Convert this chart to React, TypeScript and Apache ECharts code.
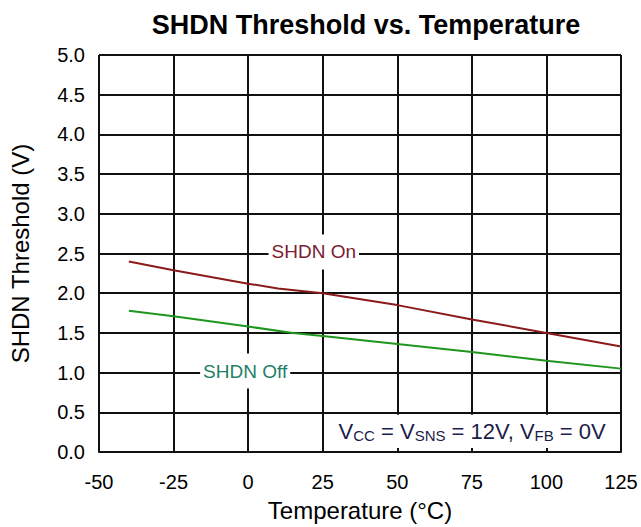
import React, { useEffect, useRef } from "react";
import * as echarts from "echarts";

const temps = [-40, -25, 0, 10, 25, 50, 75, 100, 125];
const shdnOn = [2.4, 2.29, 2.12, 2.06, 2.0, 1.85, 1.67, 1.5, 1.33];
const temps2 = [-40, -25, 0, 15, 25, 50, 75, 100, 125];
const shdnOff = [1.78, 1.71, 1.58, 1.5, 1.46, 1.36, 1.26, 1.15, 1.05];
const xTicks = [-50, -25, 0, 25, 50, 75, 100, 125];
const yTicks = [0, 0.5, 1, 1.5, 2, 2.5, 3, 3.5, 4, 4.5, 5];

const FONT = "Liberation Sans, Arial, sans-serif";

export default function App() {
  const ref = useRef<HTMLDivElement>(null);
  useEffect(() => {
    if (!ref.current) return;
    const chart = echarts.init(ref.current, null, { renderer: "svg" });
    const grid = "#111";
    chart.setOption({
      animation: false,
      backgroundColor: "#fff",
      textStyle: { fontFamily: FONT },
      title: {
        text: "SHDN Threshold vs. Temperature",
        left: 361,
        textAlign: "center",
        top: 6,
        textStyle: { fontFamily: FONT, fontSize: 27, fontWeight: "bold", color: "#000" },
      },
      grid: { left: 96, right: 20, top: 55, bottom: 72 },
      xAxis: {
        type: "value",
        min: xTicks[0],
        max: xTicks[xTicks.length - 1],
        interval: 25,
        name: "Temperature (°C)",
        nameLocation: "middle",
        nameGap: 46,
        nameTextStyle: { fontFamily: FONT, fontSize: 24, color: "#000" },
        axisLine: { show: true, lineStyle: { color: grid, width: 2 } },
        axisTick: { show: false },
        axisLabel: { fontFamily: FONT, fontSize: 20, color: "#000", margin: 20 },
        splitLine: { show: true, lineStyle: { color: grid, width: 2 } },
      },
      yAxis: {
        type: "value",
        min: yTicks[0],
        max: yTicks[yTicks.length - 1],
        interval: 0.5,
        name: "SHDN Threshold (V)",
        nameLocation: "middle",
        nameGap: 67,
        nameTextStyle: { fontFamily: FONT, fontSize: 24, color: "#000" },
        axisLine: { show: true, lineStyle: { color: grid, width: 2 } },
        axisTick: { show: false },
        axisLabel: {
          fontFamily: FONT,
          fontSize: 20,
          color: "#000",
          margin: 14,
          formatter: (v: number) => v.toFixed(1),
        },
        splitLine: { show: true, lineStyle: { color: grid, width: 2 } },
      },
      series: [
        {
          type: "line",
          data: temps.map((t, i) => [t, shdnOn[i]]),
          symbol: "none",
          lineStyle: { color: "#8b1a1a", width: 2 },
          z: 3,
          markPoint: {
            symbol: "circle",
            symbolSize: 0,
            data: [{ coord: [22, 2.52] }],
            label: {
              show: true,
              formatter: "SHDN On",
              position: "inside",
              fontFamily: FONT,
              fontSize: 19,
              color: "#7a2030",
              backgroundColor: "#fff",
              padding: [8, 3, 8, 3],
            },
          },
        },
        {
          type: "line",
          data: temps2.map((t, i) => [t, shdnOff[i]]),
          symbol: "none",
          lineStyle: { color: "#1e961e", width: 2 },
          z: 3,
          markPoint: {
            symbol: "circle",
            symbolSize: 0,
            data: [{ coord: [-1, 1.02] }],
            label: {
              show: true,
              formatter: "SHDN Off",
              position: "inside",
              fontFamily: FONT,
              fontSize: 19,
              color: "#1f7f66",
              backgroundColor: "#fff",
              padding: [8, 3, 8, 3],
            },
          },
          markArea: {
            silent: true,
            itemStyle: { color: "#fff" },
            label: {
              show: true,
              position: "inside",
              formatter: "V{s|CC} = V{s|SNS} = 12V, V{s|FB} = 0V",
              fontFamily: FONT,
              fontSize: 22,
              color: "#1c1c4a",
              rich: {
                s: { fontFamily: FONT, fontSize: 15, color: "#1c1c4a", padding: [8, 0, 0, 0] },
              },
            },
            data: [[{ coord: [25.8, 0.47] }, { coord: [124.4, 0.05] }]],
          },
        },
      ],
    });
    return () => chart.dispose();
  }, []);
  return (
    <div
      ref={ref}
      style={{ position: "absolute", left: 0, top: 0, width: 641, height: 527 }}
    />
  );
}
